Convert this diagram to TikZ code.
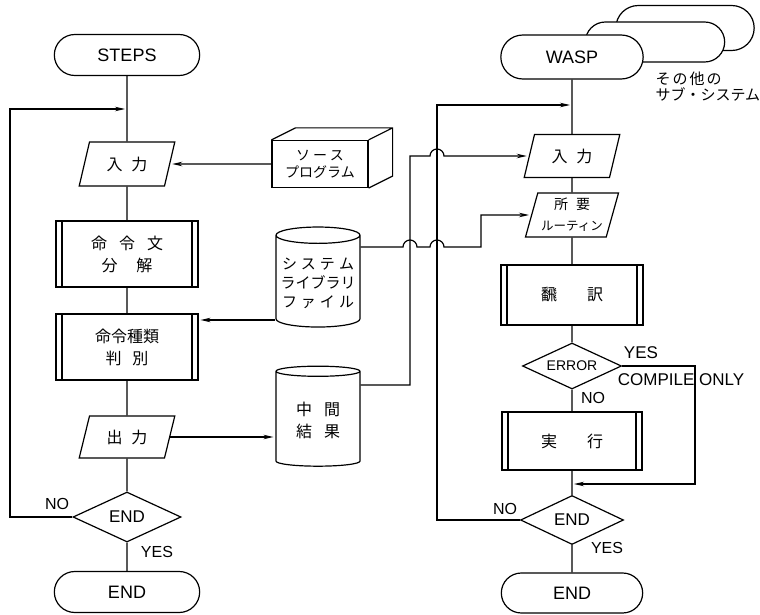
\documentclass[tikz,border=0pt]{standalone}
\usepackage{fontspec}
\setmainfont{Liberation Sans}
\newfontfamily\jp{Noto Sans CJK JP}
\usetikzlibrary{positioning,shapes.geometric,shapes.misc,arrows.meta}

\tikzset{
  term/.style={draw, rounded rectangle, fill=white, minimum width=152pt, minimum height=41pt, font=\fontsize{18}{20}\selectfont},
  io/.style={draw, trapezium, trapezium left angle=73, trapezium right angle=107, trapezium stretches=true, minimum width=96pt, minimum height=44pt, align=center, font=\jp\fontsize{16}{18}\selectfont},
  proc/.style={draw, rectangle, minimum width=142pt, minimum height=66pt, align=center, font=\jp\fontsize{16}{22}\selectfont,
    path picture={\draw[line width=1.2pt]
      ([xshift=6pt]path picture bounding box.north west) -- ([xshift=6pt]path picture bounding box.south west)
      ([xshift=-6pt]path picture bounding box.north east) -- ([xshift=-6pt]path picture bounding box.south east);}},
  disk/.style={draw, cylinder, shape border rotate=90, aspect=0.2, minimum width=84pt, minimum height=100pt, align=center, font=\jp\fontsize{15}{19}\selectfont},
  test/.style={draw, diamond, aspect=2.2, minimum width=108pt, minimum height=50pt, inner sep=1pt, font=\fontsize{17}{20}\selectfont},
  arr/.style={-{Stealth[length=10pt,width=4.5pt]}, shorten >=2pt},
  lbl/.style={inner sep=0pt, font=\fontsize{16}{18}\selectfont}
}

\begin{document}
\begin{tikzpicture}[x=1pt, y=-1pt, line width=1.2pt]
  \path[use as bounding box, fill=white] (0,0) rectangle (760,615);

  % STEPS side
  \node[term] (steps) at (127,55) {STEPS};
  \node[io] (in1) at (127,164) {入\hspace{9pt}力};
  \node[proc] (dec) at (127,254) {命\hspace{12pt}令\hspace{12pt}文\\分\hspace{19pt}解};
  \node[proc] (cls) at (127,347) {命令種類\\判\hspace{11pt}別};
  \node[io, minimum height=42pt] (out1) at (127,437) {出\hspace{9pt}力};
  \node[test] (end1) at (127,517) {END};
  \node[term] (stop1) at (127,592) {END};

  % files in the middle
  \node[draw, minimum width=96pt, minimum height=47pt, align=center, font=\jp\fontsize{14}{17}\selectfont] (src) at (320,164)
    {ソ\hspace{3pt}ー\hspace{3pt}ス\\プログラム};
  \draw (src.north west) -- ([xshift=24pt,yshift=12pt]src.north west)
    -- ([xshift=24pt,yshift=12pt]src.north east) -- ([xshift=24pt,yshift=12pt]src.south east)
    -- (src.south east) (src.north east) -- ([xshift=24pt,yshift=12pt]src.north east);
  \node[disk] (lib) at (318,283) {シ\hspace{4pt}ス\hspace{4pt}テ\hspace{4pt}ム\\ライブラリ\\フ\hspace{4pt}ァ\hspace{4pt}イ\hspace{4pt}ル};
  \node[disk, font=\jp\fontsize{16}{22}\selectfont] (tmp) at (318,420) {中\hspace{12pt}間\\結\hspace{12pt}果};

  % WASP side
  \node[term, minimum width=145pt, minimum height=45pt] (sub3) at (685,28) {};
  \node[term, minimum width=146pt, minimum height=40pt] (sub2) at (655,42) {};
  \node[term, minimum width=149pt, minimum height=44pt] (wasp) at (572,57) {WASP};
  \node[anchor=north west, align=left, inner sep=0pt, font=\jp\fontsize{15}{16}\selectfont] (others) at (655,71)
    {そ\hspace{2pt}の\hspace{2pt}他\hspace{2pt}の\\サブ・システム};
  \node[io, minimum height=43pt] (in2) at (572,156) {入\hspace{9pt}力};
  \node[io, minimum width=91pt, font=\jp\fontsize{14}{21}\selectfont] (req) at (572,215)
    {所\hspace{8pt}要\\{\fontsize{12.5}{21}\selectfont ルーティン}};
  \node[proc, minimum height=60pt] (trn) at (572,295) {飜\hspace{30pt}訳};
  \node[test, minimum width=99pt, minimum height=46pt, font=\fontsize{14}{16}\selectfont] (err) at (572,366) {ERROR};
  \node[proc, minimum width=140pt, minimum height=58pt] (exe) at (572,441) {実\hspace{30pt}行};
  \node[test, minimum width=103pt, minimum height=49pt] (end2) at (572,520) {END};
  \node[term, minimum width=148pt, minimum height=40pt] (stop2) at (572,593) {END};

  % yes / no
  \node[lbl] (no1) at (57,504) {NO};
  \node[lbl] (yes1) at (157,552) {YES};
  \node[lbl, font=\fontsize{17}{18}\selectfont] (yes2) at (641,353) {YES};
  \node[lbl, font=\fontsize{17}{18}\selectfont] (conly) at (681,380) {COMPILE ONLY};
  \node[lbl] (no2) at (593,398) {NO};
  \node[lbl] (no3) at (505,509) {NO};
  \node[lbl] (yes3) at (607,548) {YES};

  \coordinate (j1) at (127,109);
  \coordinate (lp1) at (10,109);
  \coordinate (j2) at (572,105);
  \coordinate (lp2) at (437,105);
  \coordinate (j3) at (572,484);
  \coordinate (c3) at (695,484);
  \coordinate (busA) at (410,0);
  \coordinate (busB) at (437,0);
  \coordinate (busC) at (481,0);
  \coordinate (lbw) at ([yshift=-37pt]lib.west);
  \coordinate (lbe) at ([yshift=36pt]lib.east);
  \coordinate (tme) at ([yshift=35pt]tmp.east);

  % main flow
  \draw (steps) -- (in1) -- (dec) -- (cls) -- (out1) -- (end1) -- (stop1);
  \draw (wasp) -- (in2) -- (req) -- (trn) -- (err) -- (exe) -- (end2) -- (stop2);

  % loops
  \draw[arr] (end1.west) -| (lp1) -- (j1);
  \draw[arr] (end2.west) -| (lp2) -- (j2);
  \draw[arr] (err.east) -| (c3) -- (j3);

  % data
  \draw[arr] (src.west) -- (in1.east);
  \draw[arr] (lbw) -- (lbw -| cls.east);
  \draw[arr] (out1.east) -- (out1.east -| tmp.west);
  \draw[arr] (tme) -| (busA |- in2.west) -- ([xshift=-7pt]busB |- in2.west)
    arc[start angle=180, end angle=0, radius=7pt] -- (in2.west);
  \draw[arr] (lbe) -- ([xshift=-7pt]busA |- lbe) arc[start angle=180, end angle=0, radius=7pt]
    -- ([xshift=-7pt]busB |- lbe) arc[start angle=180, end angle=0, radius=7pt]
    -| (busC |- req.west) -- (req.west);
\end{tikzpicture}
\end{document}
